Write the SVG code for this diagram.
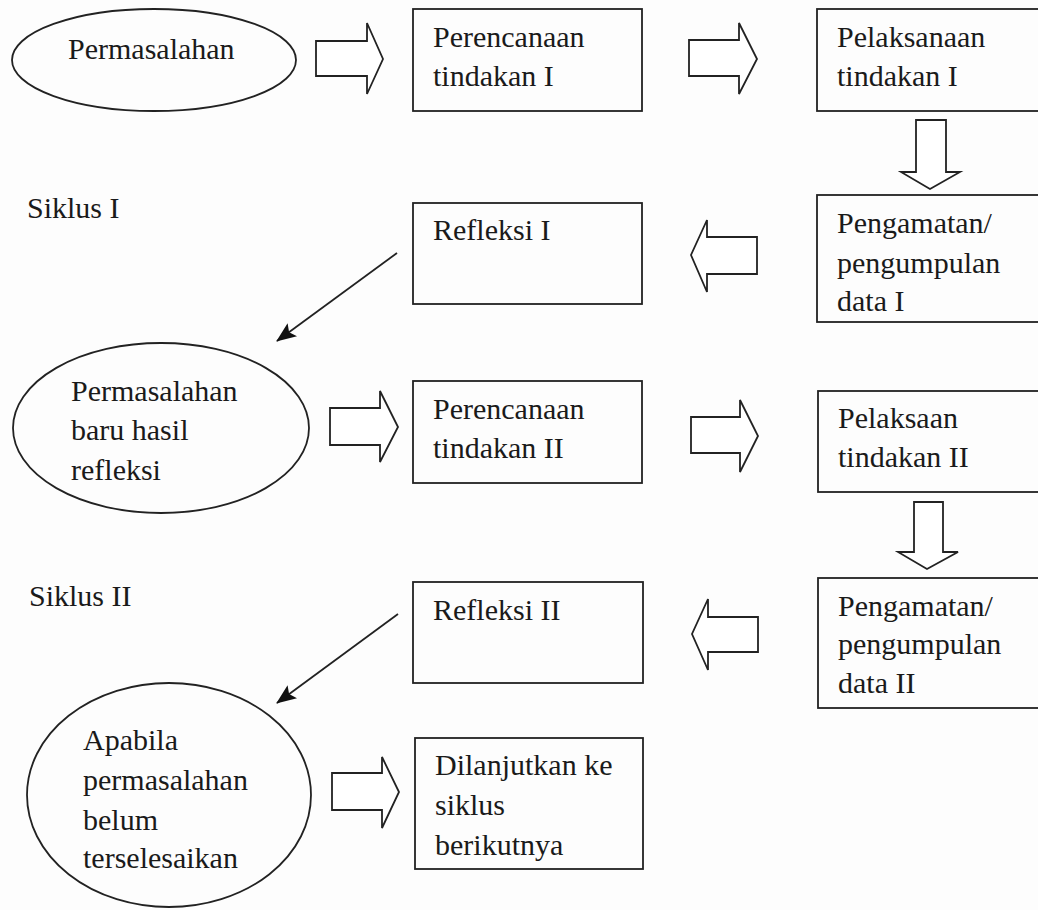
<svg xmlns="http://www.w3.org/2000/svg" width="1038" height="910" viewBox="0 0 1038 910">
<defs>
<style>
.n{fill:none;stroke:#222;stroke-width:1.8}
.a{fill:#fff;stroke:#222;stroke-width:1.8;stroke-linejoin:miter}
.c{fill:none;stroke:#222;stroke-width:1.8}
</style>
<marker id="ah2" viewBox="0 0 20 16" refX="19" refY="8" markerWidth="20" markerHeight="16" markerUnits="userSpaceOnUse" orient="auto">
<path d="M0,0 L20,8 L0,16 L4,8 z" fill="#111"/>
</marker>
</defs>
<rect width="1038" height="910" fill="#fdfdfd"/>

<g font-family="Liberation Serif, DejaVu Serif, Times New Roman, serif" font-size="30" fill="#1a1a1a">
<g id="n-permasalahan">
<ellipse class="n" cx="154" cy="60" rx="142" ry="51"/>
<text x="68" y="59">Permasalahan</text>
</g>
<g id="n-perencanaan1">
<rect class="n" x="413" y="9" width="229" height="102"/>
<text x="433" y="47">Perencanaan</text>
<text x="433" y="86">tindakan I</text>
</g>
<g id="n-pelaksanaan1">
<rect class="n" x="817" y="9" width="230" height="102"/>
<text x="837" y="47">Pelaksanaan</text>
<text x="837" y="86">tindakan I</text>
</g>
<g id="n-pengamatan1">
<rect class="n" x="817" y="195" width="230" height="127"/>
<text x="837" y="233">Pengamatan/</text>
<text x="837" y="273">pengumpulan</text>
<text x="837" y="311">data I</text>
</g>
<g id="n-refleksi1">
<rect class="n" x="413" y="203" width="229" height="101"/>
<text x="433" y="240">Refleksi I</text>
</g>
<g id="n-siklus1">
<text x="27" y="218">Siklus I</text>
</g>
<g id="n-permasalahan2">
<ellipse class="n" cx="161" cy="428" rx="148" ry="85"/>
<text x="71" y="401">Permasalahan</text>
<text x="71" y="440">baru hasil</text>
<text x="71" y="480">refleksi</text>
</g>
<g id="n-perencanaan2">
<rect class="n" x="413" y="381" width="229" height="102"/>
<text x="433" y="419">Perencanaan</text>
<text x="433" y="458">tindakan II</text>
</g>
<g id="n-pelaksaan2">
<rect class="n" x="818" y="391" width="230" height="101"/>
<text x="838" y="428">Pelaksaan</text>
<text x="838" y="467">tindakan II</text>
</g>
<g id="n-pengamatan2">
<rect class="n" x="818" y="578" width="230" height="130"/>
<text x="838" y="616">Pengamatan/</text>
<text x="838" y="654">pengumpulan</text>
<text x="838" y="693">data II</text>
</g>
<g id="n-refleksi2">
<rect class="n" x="413" y="582" width="230" height="101"/>
<text x="433" y="620">Refleksi II</text>
</g>
<g id="n-siklus2">
<text x="29" y="606">Siklus II</text>
</g>
<g id="n-apabila">
<ellipse class="n" cx="169" cy="795" rx="142" ry="112"/>
<text x="83" y="750">Apabila</text>
<text x="83" y="790">permasalahan</text>
<text x="83" y="830">belum</text>
<text x="83" y="868">terselesaikan</text>
</g>
<g id="n-dilanjutkan">
<rect class="n" x="415" y="738" width="228" height="131"/>
<text x="435" y="775">Dilanjutkan ke</text>
<text x="435" y="815">siklus</text>
<text x="435" y="855">berikutnya</text>
</g>
</g>

<g id="connectors">
<polygon class="a" points="316,41 367,41 367,23 383,59 367,94 367,76 316,76"/>
<polygon class="a" points="689,40 739,40 739,23 757,59 739,94 739,76 689,76"/>
<polygon class="a" points="916,120 946,120 946,172 960,172 930,189 901,172 916,172"/>
<polygon class="a" points="757,237 707,237 707,220 691,255 707,292 707,274 757,274"/>
<line class="c" x1="397" y1="253" x2="277" y2="341" marker-end="url(#ah2)"/>
<polygon class="a" points="330,408 380,408 380,391 398,427 380,462 380,445 330,445"/>
<polygon class="a" points="691,417 740,417 740,400 758,436 740,472 740,453 691,453"/>
<polygon class="a" points="914,502 943,502 943,552 958,552 927,569 898,552 914,552"/>
<polygon class="a" points="758,617 708,617 708,599 692,634 708,670 708,652 758,652"/>
<line class="c" x1="398" y1="614" x2="277" y2="703" marker-end="url(#ah2)"/>
<polygon class="a" points="332,773 382,773 382,757 399,792 382,828 382,810 332,810"/>
</g>
</svg>
